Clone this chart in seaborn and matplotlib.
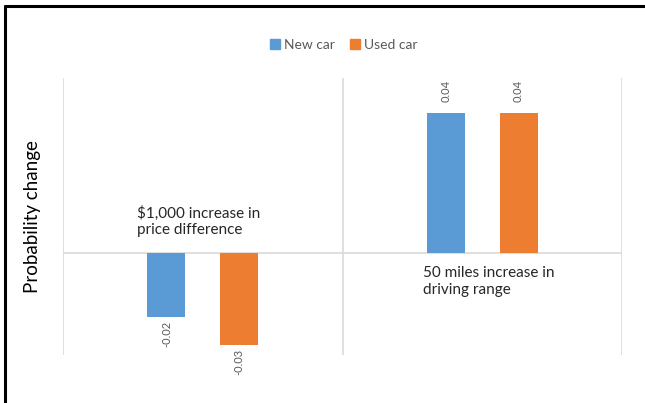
import matplotlib
matplotlib.use("Agg")
import matplotlib.pyplot as plt
import seaborn as sns
import pandas as pd
from matplotlib.lines import Line2D

categories = ["$1,000 increase in\nprice difference", "50 miles increase in\ndriving range"]
series = ["New car", "Used car"]
new_car = [-0.0183, 0.040]
used_car = [-0.0263, 0.040]
colors = ["#5B9BD5", "#ED7D31"]

df = pd.DataFrame({
    "factor": categories * 2,
    "car": [series[0]] * 2 + [series[1]] * 2,
    "value": new_car + used_car,
})

sns.set_theme(style="white")
plt.rcParams["font.family"] = ["Lato", "DejaVu Sans"]

fig = plt.figure(figsize=(6.45, 4.03), dpi=100)
ax = fig.add_axes([63 / 645, (403 - 355) / 403, (622 - 63) / 645, (355 - 78) / 403])

sns.barplot(data=df, x="factor", y="value", hue="car", palette=colors, saturation=1,
            width=0.52, gap=0.475, linewidth=0, ax=ax, legend=False)

ax.set_xlim(-0.5, 1.5)
ax.set_ylim(-0.0291, 0.05)

for s in ax.spines.values():
    s.set_visible(False)
ax.set_xticks([])
ax.set_yticks([])
ax.set_xlabel("")
ax.set_ylabel("Probability change", fontsize=13.5, color="#000000", labelpad=16)

grid = "#D9D9D9"
ax.axhline(0, color=grid, lw=1.2, zorder=0)
for xv in [-0.5, 0.5, 1.5]:
    ax.axvline(xv, color=grid, lw=1.2, zorder=0)

# data labels
for cont in ax.containers:
    for patch in cont:
        h = patch.get_height()
        xc = patch.get_x() + patch.get_width() / 2
        if h >= 0:
            ax.annotate(f"{h:.2f}", (xc, h), xytext=(0, 8), textcoords="offset points",
                        rotation=90, ha="center", va="bottom", fontsize=8, color="#595959")
        else:
            ax.annotate(f"{h:.2f}", (xc, h), xytext=(0, -3), textcoords="offset points",
                        rotation=90, ha="center", va="top", fontsize=8, color="#595959")

# category labels placed inside the plot
ax.text(-0.236, 0.0045, categories[0], ha="left", va="bottom", fontsize=11,
        color="#262626", linespacing=1.25)
ax.text(0.787, -0.0038, categories[1], ha="left", va="top", fontsize=11,
        color="#262626", linespacing=1.25)

# legend
handles = [plt.Rectangle((0, 0), 1, 1, color=c) for c in colors]
fig.legend(handles, series, loc="center", bbox_to_anchor=(344 / 645, 1 - 45 / 403),
           ncol=2, frameon=False, fontsize=10, handlelength=0.7, handleheight=0.7,
           handletextpad=0.3, columnspacing=1.1, labelcolor="#595959")

# frame lines (top and left)
fig.add_artist(Line2D([5 / 645, 1], [1 - 6 / 403, 1 - 6 / 403], color="black", lw=2.2,
                      transform=fig.transFigure))
fig.add_artist(Line2D([5 / 645, 5 / 645], [0, 1 - 6 / 403], color="black", lw=2.2,
                      transform=fig.transFigure))

fig.savefig("out.png", dpi=100, facecolor="white")
